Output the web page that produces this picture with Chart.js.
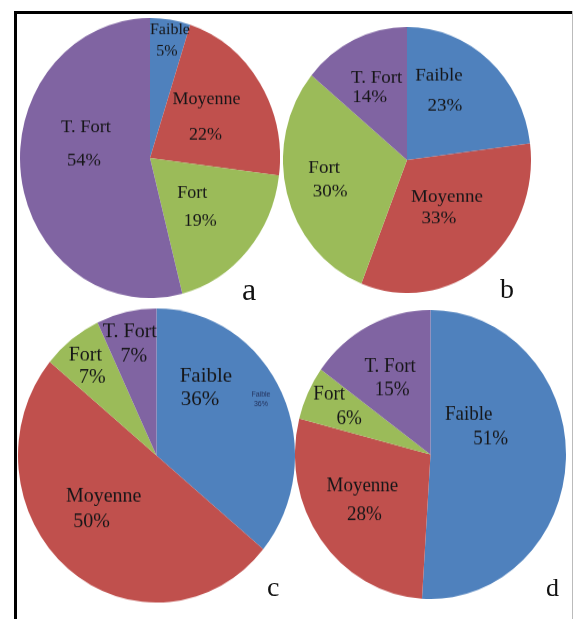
<!DOCTYPE html>
<html>
<head>
<meta charset="utf-8">
<script src="https://cdn.jsdelivr.net/npm/chart.js@4.4.1/dist/chart.umd.min.js"></script>
<style>
  html, body { margin: 0; padding: 0; background: #fff; }
  #page { position: relative; width: 573px; height: 619px; overflow: hidden; background: #fff; }
  .frame { position: absolute; }
  .pie { position: absolute; transform-origin: 50% 50%; }
  .tag { position: absolute; font-family: "Liberation Serif", "Times New Roman", serif; color: #111; line-height: 1; }
</style>
</head>
<body>
<div id="page">
  <div class="frame" style="left:14px;top:11px;width:559px;height:3px;background:#000"></div>
  <div class="frame" style="left:14px;top:11px;width:3px;height:608px;background:#000"></div>
  <div class="frame" style="left:572px;top:11px;width:1px;height:608px;background:#bbb"></div>
</div>
<script>
var categories = ['Faible', 'Moyenne', 'Fort', 'T. Fort'];
var valuesA = [5, 22, 19, 54];
var valuesB = [23, 33, 30, 14];
var valuesC = [36, 50, 7, 7];
var valuesD = [51, 28, 6, 15];
var panelNames = ['a', 'b', 'c', 'd'];
var colors = ['#4F81BD', '#C0504D', '#9BBB59', '#8064A2'];

var serif = '"Liberation Serif", "Times New Roman", serif';
var ink = '#161618';

// label spec: [slice, radius fraction, angle shift (deg), line gap, 2nd line indent, font size]
var panels = [
  { values: valuesA, cx: 149.5, cy: 157.5, rx: 130, ry: 140,
    labels: [[0, .85, .6, 22, -3, 16], [1, .52, -1.7, 36, -1, 18], [2, .50, 3.3, 28, 8, 18], [3, .51, 18.4, 33, -2, 18.5]],
    tag: { left: 242, top: 273, size: 32 } },
  { values: valuesB, cx: 407, cy: 160, rx: 124, ry: 133,
    labels: [[0, .59, -12.8, 30, 6, 19], [1, .46, -1.3, 21, -8, 19], [2, .66, 1.6, 23, 6, 19], [3, .61, -1.4, 20, -7, 19]],
    tag: { left: 500, top: 275, size: 28 } },
  { values: valuesC, cx: 156.5, cy: 455, rx: 138.5, ry: 147,
    labels: [[0, .57, -28.8, 24, -6, 21], [1, .56, 9.7, 25, -12, 20], [2, .78, -1.0, 22, 7, 20], [3, .78, -0.6, 24, 4, 20],
             [0, .845, -1.6, 9, 0, 7, 'sans']],
    tag: { left: 267, top: 573, size: 28 } },
  { values: valuesD, cx: 430.5, cy: 454.5, rx: 135.5, ry: 144.5,
    labels: [[0, .41, -29.3, 24, 22, 19], [1, .59, 3.1, 28, 2, 19], [2, .75, 0.8, 24, 20, 19], [3, .60, -2, 23, 2, 19]],
    tag: { left: 546, top: 575, size: 26 } }
];

var sliceLabels = {
  id: 'sliceLabels',
  afterDatasetsDraw: function(chart, args, opts) {
    var ctx = chart.ctx;
    var meta = chart.getDatasetMeta(0);
    var data = chart.data.datasets[0].data;
    opts.items.forEach(function(it) {
      var p = meta.data[it[0]].getProps(['x', 'y', 'startAngle', 'endAngle', 'outerRadius'], true);
      var ang = (p.startAngle + p.endAngle) / 2 + it[2] * Math.PI / 180;
      var r = it[1] * p.outerRadius;
      ctx.save();
      ctx.translate(p.x + r * Math.cos(ang), p.y + r * Math.sin(ang));
      ctx.scale(1, 1 / opts.k);
      ctx.font = it[5] + 'px ' + (it[6] === 'sans' ? '"Liberation Sans", Arial, sans-serif' : serif);
      ctx.fillStyle = it[6] === 'sans' ? 'rgba(30,40,80,0.9)' : ink;
      ctx.textAlign = 'center';
      ctx.textBaseline = 'middle';
      ctx.fillText(chart.data.labels[it[0]], -it[4] / 2, -it[3] / 2);
      ctx.fillText(data[it[0]] + '%', it[4] / 2, it[3] / 2);
      ctx.restore();
    });
  }
};

var page = document.getElementById('page');

panels.forEach(function(pn, n) {
  var size = Math.round(pn.rx * 2);
  var k = pn.ry / pn.rx;
  var canvas = document.createElement('canvas');
  canvas.className = 'pie';
  canvas.width = size;
  canvas.height = size;
  canvas.style.left = (pn.cx - size / 2) + 'px';
  canvas.style.top = (pn.cy - size / 2) + 'px';
  canvas.style.transform = 'scaleY(' + k + ')';
  page.appendChild(canvas);

  new Chart(canvas, {
    type: 'pie',
    data: {
      labels: categories,
      datasets: [{
        data: pn.values,
        backgroundColor: colors,
        borderWidth: 0,
        hoverOffset: 0
      }]
    },
    options: {
      responsive: false,
      animation: false,
      events: [],
      layout: { padding: 0 },
      plugins: {
        legend: { display: false },
        tooltip: { enabled: false },
        sliceLabels: { items: pn.labels, k: k }
      }
    },
    plugins: [sliceLabels]
  });

  var tag = document.createElement('div');
  tag.className = 'tag';
  tag.textContent = panelNames[n];
  tag.style.left = pn.tag.left + 'px';
  tag.style.top = pn.tag.top + 'px';
  tag.style.fontSize = pn.tag.size + 'px';
  page.appendChild(tag);
});
</script>
</body>
</html>
